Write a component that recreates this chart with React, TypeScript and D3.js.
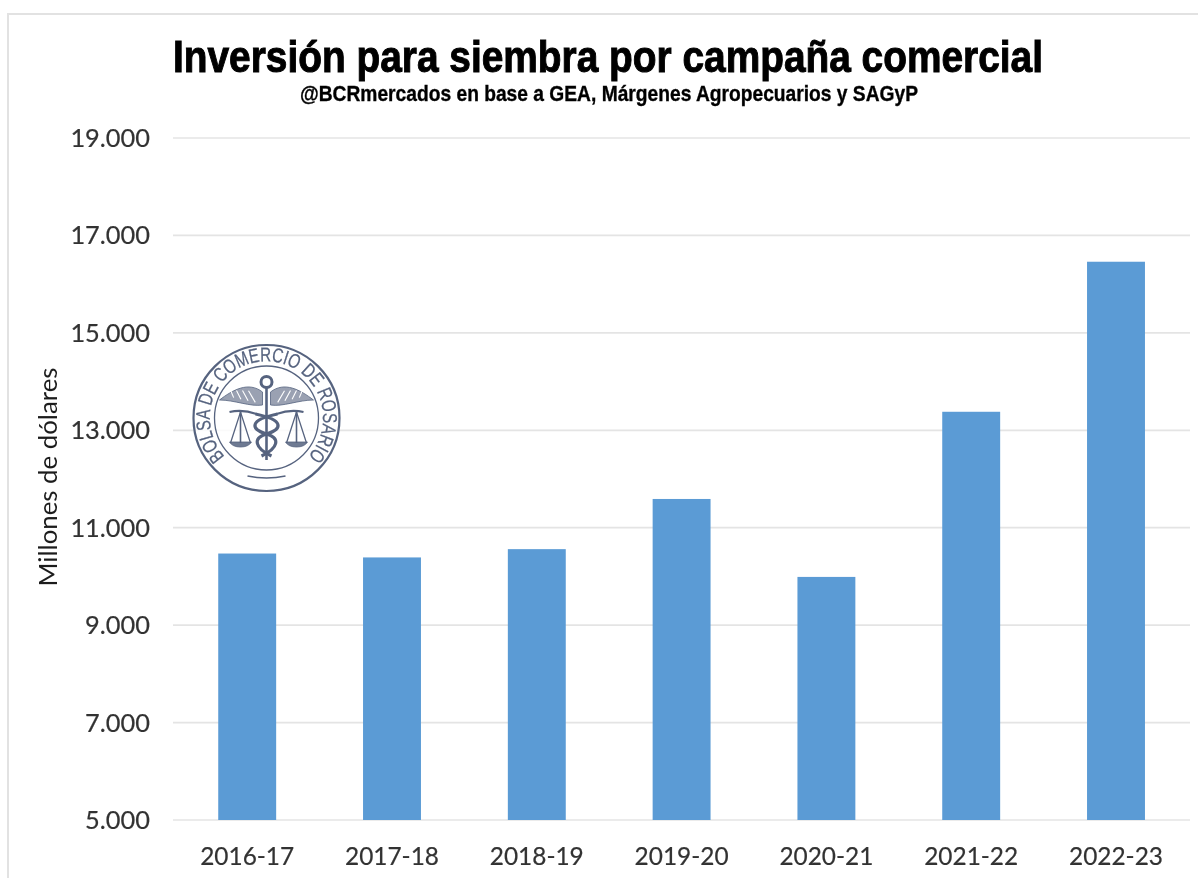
import React from "react";
import * as d3 from "d3";

const categories = ["2016-17","2017-18","2018-19","2019-20","2020-21","2021-22","2022-23"];
const values = [10470,10390,10560,11590,9990,13380,16460];
const ticks = [5000,7000,9000,11000,13000,15000,17000,19000];

const fmt = (v:number)=> d3.format(",")(v).replace(",",".");
const ringText = "BOLSA DE COMERCIO DE ROSARIO";
const feathers = [0.2,0.4,0.6,0.8];

export default function App(){
  const y = d3.scaleLinear().domain([5000,19000]).range([820,138]);
  const x = d3.scaleBand().domain(categories).range([174.8,1188.4]).paddingInner(0.6).paddingOuter(0.3);
  const sans = "Lato,'Open Sans',sans-serif";
  const narrow = "'Liberation Sans Narrow','Liberation Sans',Arial,sans-serif";
  const cx=266.5, cy=418;
  const ink="#56637f";
  return (
    <svg width={1198} height={878} style={{position:"absolute",left:0,top:0,background:"#fff"}}>
      <defs>
        <filter id="soft" filterUnits="userSpaceOnUse" x={0} y={0} width={1198} height={878}><feGaussianBlur stdDeviation={0.45}/></filter>
        <filter id="softer" filterUnits="userSpaceOnUse" x={0} y={0} width={1198} height={878}><feGaussianBlur stdDeviation={0.65}/></filter>
      </defs>
      <rect x={8} y={14} width={1200} height={880} fill="#fff" stroke="#e2e2e2" strokeWidth={2}/>
      {ticks.map(t=>(
        <line key={t} x1={173} x2={1190} y1={y(t)} y2={y(t)} stroke="#e4e4e4" strokeWidth={1.7}/>
      ))}
      {categories.map((c,i)=>(
        <rect key={c} x={x(c)} y={y(values[i])} width={x.bandwidth()} height={y(5000)-y(values[i])} fill="#5b9bd5"/>
      ))}
      <g filter="url(#soft)">
        <text x={608} y={72} textAnchor="middle" fontFamily={narrow} fontWeight={700} fontSize={45} textLength={870} lengthAdjust="spacingAndGlyphs" stroke="#000" strokeWidth={1}>Inversión para siembra por campaña comercial</text>
        <text x={609} y={101} textAnchor="middle" fontFamily={narrow} fontWeight={700} fontSize={22} textLength={618} lengthAdjust="spacingAndGlyphs" stroke="#111" strokeWidth={0.35}>@BCRmercados en base a GEA, Márgenes Agropecuarios y SAGyP</text>
        {ticks.map(t=>(
          <text key={t} x={150} y={y(t)+9} textAnchor="end" fontFamily={sans} fontSize={25.4} fill="#333" stroke="#333" strokeWidth={0.2}>{fmt(t)}</text>
        ))}
        {categories.map(c=>(
          <text key={c} x={(x(c) as number)+x.bandwidth()/2} y={865} textAnchor="middle" fontFamily={sans} fontSize={24.4} fill="#333" stroke="#333" strokeWidth={0.2}>{c}</text>
        ))}
        <text transform="translate(57,477) rotate(-90)" textAnchor="middle" fontFamily={sans} fontSize={25.8} fill="#1f1f1f">Millones de dólares</text>
      </g>
      <g fill="none" stroke={ink} filter="url(#softer)">
        <circle cx={cx} cy={cy} r={74} fill="#fff" fillOpacity={0.82} stroke="none"/>
        <circle cx={cx} cy={cy} r={73} strokeWidth={2.2}/>
        <circle cx={cx} cy={cy} r={52} strokeWidth={1.3}/>
        <path id="ring" d={`M ${cx-40} ${cy+40} A 56.6 56.6 0 1 1 ${cx+40} ${cy+40}`} stroke="none"/>
        <text fontFamily="'Liberation Sans',Arial,sans-serif" fontSize={20} fill={ink} stroke={ink} strokeWidth={0.25}>
          <textPath href="#ring" startOffset="50%" textAnchor="middle" textLength={262} lengthAdjust="spacingAndGlyphs">{ringText}</textPath>
        </text>
        <path d={`M ${cx-19} ${cy+58} Q ${cx} ${cy+62} ${cx+19} ${cy+58}`} strokeWidth={1.4}/>
        <circle cx={cx} cy={cy-36} r={5.5} strokeWidth={3}/>
        <path d={`M ${cx} ${cy-30} V ${cy+42}`} strokeWidth={2.6}/>
        <path d={`M ${cx-4} ${cy-26} C ${cx-18} ${cy-37} ${cx-34} ${cy-28} ${cx-47} ${cy-18} C ${cx-32} ${cy-18} ${cx-16} ${cy-11} ${cx-4} ${cy-13} Z M ${cx+4} ${cy-26} C ${cx+18} ${cy-37} ${cx+34} ${cy-28} ${cx+47} ${cy-18} C ${cx+32} ${cy-18} ${cx+16} ${cy-11} ${cx+4} ${cy-13} Z`} fill={ink} fillOpacity={0.6} strokeWidth={0.8}/>
        {feathers.map(f=>(
          <path key={f} d={`M ${cx-4-36*f} ${cy-14-8*f} L ${cx-12-30*f} ${cy-27-1*f} M ${cx+4+36*f} ${cy-14-8*f} L ${cx+12+30*f} ${cy-27-1*f}`} stroke="#fff" strokeWidth={1.1}/>
        ))}
        <path d={`M ${cx-11} ${cy-4} C ${cx+18} ${cy+2} ${cx+16} ${cy+11} ${cx} ${cy+16} C ${cx-14} ${cy+20} ${cx-12} ${cy+30} ${cx+5} ${cy+38} M ${cx+11} ${cy-4} C ${cx-18} ${cy+2} ${cx-16} ${cy+11} ${cx} ${cy+16} C ${cx+14} ${cy+20} ${cx+12} ${cy+30} ${cx-5} ${cy+38}`} strokeWidth={3.2}/>
        <path d={`M ${cx-37} ${cy-6} Q ${cx-24} ${cy-9} ${cx-10} ${cy-4} M ${cx+10} ${cy-4} Q ${cx+24} ${cy-9} ${cx+37} ${cy-6}`} strokeWidth={2}/>
        <path d={`M ${cx-26} ${cy-7} V ${cy+25} M ${cx+30} ${cy-7} V ${cy+25}`} strokeWidth={1.6}/>
        <path d={`M ${cx-36} ${cy+25} L ${cx-26} ${cy-6} L ${cx-16} ${cy+25} M ${cx+20} ${cy+25} L ${cx+30} ${cy-6} L ${cx+40} ${cy+25}`} strokeWidth={1.3}/>
        <path d={`M ${cx-37} ${cy+24} H ${cx-15} Q ${cx-18} ${cy+29} ${cx-26} ${cy+29} Q ${cx-34} ${cy+29} ${cx-37} ${cy+24} Z M ${cx+19} ${cy+24} H ${cx+41} Q ${cx+38} ${cy+29} ${cx+30} ${cy+29} Q ${cx+22} ${cy+29} ${cx+19} ${cy+24} Z`} fill={ink} fillOpacity={0.85} strokeWidth={0.8}/>
      </g>
    </svg>
  );
}
